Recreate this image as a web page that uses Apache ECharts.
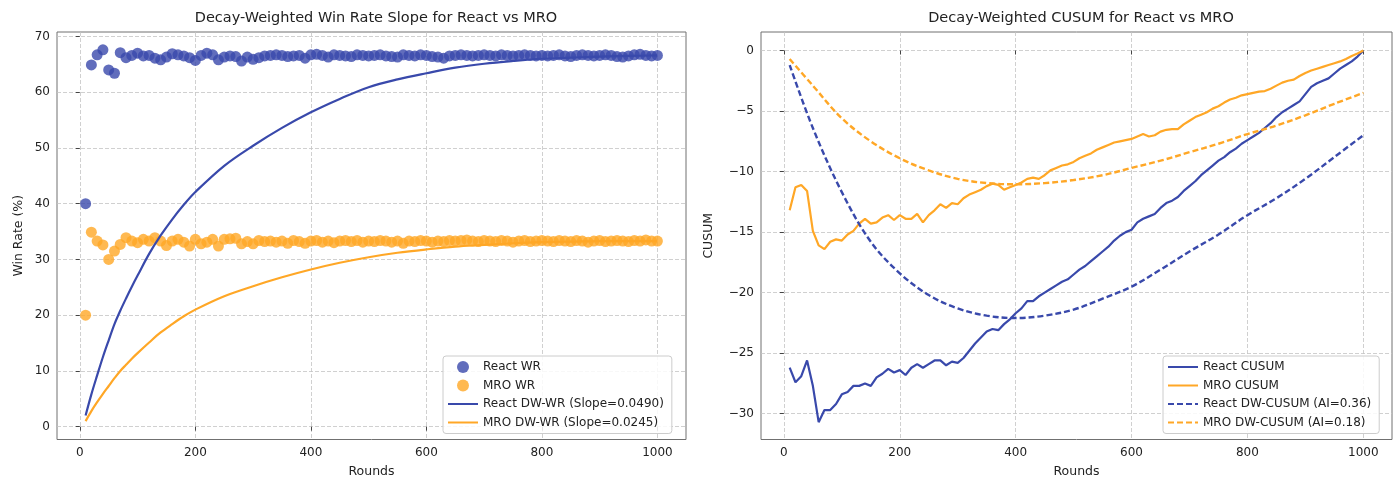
<!DOCTYPE html>
<html>
<head>
<meta charset="utf-8">
<title>Decay-Weighted Win Rate / CUSUM</title>
<script src="https://cdn.jsdelivr.net/npm/echarts@6.0.0/dist/echarts.min.js"></script>
<style>
	html, body { margin: 0; padding: 0; background: #fff; }
	#chart { width: 1400px; height: 487px; }
</style>
</head>
<body>
<div id="chart"></div>
<script>
// rounds for the scatter points and the CUSUM lines (every 10 rounds)
var rounds = [10,20,30,40,50,60,70,80,90,100,110,120,130,140,150,160,170,180,190,200,
	210,220,230,240,250,260,270,280,290,300,310,320,330,340,350,360,370,380,390,400,
	410,420,430,440,450,460,470,480,490,500,510,520,530,540,550,560,570,580,590,600,
	610,620,630,640,650,660,670,680,690,700,710,720,730,740,750,760,770,780,790,800,
	810,820,830,840,850,860,870,880,890,900,910,920,930,940,950,960,970,980,990,1000];

// win rate (%) scatter
var reactWR = [40,64.9,66.7,67.6,64.0,63.4,67.1,66.2,66.6,67.0,66.5,66.6,66.1,65.8,66.3,66.9,66.7,66.5,66.2,65.7,
	66.6,67.0,66.7,65.8,66.3,66.5,66.4,65.6,66.3,65.9,66.2,66.5,66.6,66.7,66.6,66.4,66.5,66.6,66.1,66.7,
	66.8,66.6,66.3,66.7,66.6,66.5,66.4,66.7,66.6,66.5,66.6,66.7,66.5,66.4,66.3,66.7,66.6,66.5,66.7,66.6,
	66.4,66.3,66.1,66.5,66.6,66.7,66.6,66.5,66.6,66.7,66.6,66.5,66.7,66.6,66.5,66.6,66.7,66.6,66.5,66.6,
	66.5,66.6,66.7,66.5,66.4,66.6,66.7,66.6,66.5,66.6,66.7,66.6,66.4,66.3,66.5,66.7,66.8,66.6,66.5,66.6];
var mroWR = [20,34.9,33.3,32.6,30.0,31.5,32.7,33.9,33.3,33.0,33.6,33.3,33.9,33.3,32.5,33.3,33.6,33.1,32.4,33.6,
	32.8,33.1,33.6,32.4,33.6,33.7,33.8,32.8,33.2,32.8,33.4,33.2,33.3,33.1,33.3,32.9,33.4,33.2,32.9,33.3,
	33.4,33.1,33.3,33.0,33.3,33.4,33.2,33.4,33.1,33.3,33.2,33.4,33.3,33.1,33.3,32.9,33.3,33.2,33.4,33.3,
	33.1,33.3,33.2,33.4,33.3,33.4,33.5,33.3,33.2,33.4,33.3,33.2,33.4,33.3,33.1,33.3,33.4,33.2,33.3,33.4,
	33.3,33.2,33.4,33.3,33.2,33.4,33.3,33.1,33.3,33.4,33.2,33.3,33.4,33.3,33.2,33.4,33.3,33.5,33.3,33.3];

// decay-weighted win rate curves
var dwRounds = [10,20,30,40,50,60,70,80,90,100,120,140,160,180,200,250,300,350,400,450,500,550,600,650,700,750,800,850,900,950,1000];
var reactDW = [2,5.8,9.2,12.5,15.5,18.4,20.8,23,25.1,27.1,31,34.3,37.2,39.8,42.1,46.8,50.4,53.6,56.4,58.8,60.9,62.3,63.4,64.4,65.1,65.6,66,66.2,66.4,66.5,66.6];
var mroDW = [1,2.8,4.4,5.9,7.3,8.7,10.0,11.1,12.2,13.2,15.1,16.9,18.4,19.8,21,23.4,25.2,26.8,28.2,29.4,30.4,31.2,31.8,32.3,32.6,32.9,33.1,33.2,33.3,33.3,33.3];

// CUSUM lines
var reactCusum = [-26.2,-27.4,-26.9,-25.6,-27.7,-30.7,-29.7,-29.7,-29.2,-28.4,-28.2,-27.7,-27.7,-27.5,-27.7,-27.0,-26.7,-26.3,-26.6,-26.4,
	-26.8,-26.2,-25.9,-26.2,-25.9,-25.6,-25.6,-26.0,-25.7,-25.8,-25.4,-24.8,-24.2,-23.7,-23.2,-23.0,-23.1,-22.6,-22.2,-21.7,
	-21.3,-20.7,-20.7,-20.3,-20.0,-19.7,-19.4,-19.1,-18.9,-18.5,-18.1,-17.8,-17.4,-17.0,-16.6,-16.2,-15.7,-15.3,-15.0,-14.8,
	-14.2,-13.9,-13.7,-13.5,-13.0,-12.6,-12.4,-12.1,-11.6,-11.2,-10.8,-10.3,-9.9,-9.5,-9.1,-8.8,-8.4,-8.1,-7.7,-7.4,
	-7.1,-6.8,-6.4,-6.0,-5.5,-5.1,-4.8,-4.5,-4.2,-3.6,-3.0,-2.7,-2.5,-2.3,-1.9,-1.5,-1.2,-0.9,-0.5,0];
var mroCusum = [-13.2,-11.3,-11.1,-11.6,-14.9,-16.1,-16.4,-15.8,-15.6,-15.7,-15.2,-14.9,-14.3,-13.9,-14.3,-14.2,-13.8,-13.6,-14.0,-13.6,
	-13.9,-13.9,-13.5,-14.2,-13.6,-13.2,-12.7,-13.0,-12.6,-12.7,-12.2,-11.9,-11.7,-11.5,-11.2,-11.0,-11.1,-11.5,-11.3,-11.1,
	-10.9,-10.6,-10.5,-10.6,-10.3,-9.9,-9.7,-9.5,-9.4,-9.2,-8.9,-8.7,-8.5,-8.2,-8.0,-7.8,-7.6,-7.5,-7.4,-7.3,
	-7.1,-6.9,-7.1,-7.0,-6.7,-6.55,-6.5,-6.5,-6.1,-5.8,-5.5,-5.3,-5.1,-4.8,-4.6,-4.3,-4.05,-3.9,-3.7,-3.6,
	-3.5,-3.4,-3.35,-3.15,-2.9,-2.65,-2.5,-2.4,-2.1,-1.85,-1.65,-1.5,-1.35,-1.2,-1.05,-0.9,-0.7,-0.45,-0.25,0];

// decay-weighted CUSUM curves
var dwCusumRounds = [10,50,100,150,200,250,300,350,400,450,500,550,600,650,700,750,800,850,900,950,1000];
var reactDWCusum = [-1.2,-6.4,-11.7,-15.8,-18.4,-20.2,-21.3,-21.9,-22.1,-21.9,-21.4,-20.5,-19.5,-18.1,-16.6,-15.2,-13.6,-12.2,-10.6,-8.8,-7.0];
var mroDWCusum = [-0.7,-2.9,-5.6,-7.5,-8.9,-9.9,-10.6,-10.95,-11.05,-10.95,-10.7,-10.3,-9.7,-9.1,-8.4,-7.7,-6.9,-6.2,-5.35,-4.4,-3.5];

var xTicks = [0,200,400,600,800,1000];
var wrTicks = [0,10,20,30,40,50,60,70];
var cusumTicks = [-30,-25,-20,-15,-10,-5,0];

var BLUE = '#3949AB';
var ORANGE = '#FFA726';
var FONT = 'DejaVu Sans';

function pairs(xs, ys){
	var out = [];
	for(var i=0;i<xs.length;i++){
		out.push([xs[i], ys[i]]);
	}
	return out;
}

//plain numbers, matplotlib style minus sign
function tickText(v){
	return String(v).replace('-', '\u2212');
}

function xAxisOf(gridIndex){
	return {
		type: 'value',
		gridIndex: gridIndex,
		min: -39.5,
		max: 1049.5,
		name: 'Rounds',
		nameLocation: 'middle',
		nameGap: 26,
		nameTextStyle: { fontFamily: FONT, fontSize: 12.5, color: '#222' },
		axisLine: { show: false },
		axisTick: { show: true, length: 4, customValues: xTicks, lineStyle: { color: '#444' } },
		axisLabel: { customValues: xTicks, margin: 7, fontFamily: FONT, fontSize: 12, color: '#222', formatter: tickText },
		splitLine: { show: true, lineStyle: { type: [4, 2], color: '#c4c4c4', width: 0.8 } }
	};
}

function yAxisOf(gridIndex, name, min, max, ticks, gap){
	return {
		type: 'value',
		gridIndex: gridIndex,
		min: min,
		max: max,
		name: name,
		nameLocation: 'middle',
		nameRotate: 90,
		nameGap: gap,
		nameTextStyle: { fontFamily: FONT, fontSize: 12.5, color: '#222' },
		axisLine: { show: false },
		axisTick: { show: true, length: 4, customValues: ticks, lineStyle: { color: '#444' } },
		axisLabel: { customValues: ticks, margin: 7, fontFamily: FONT, fontSize: 12, color: '#222', formatter: tickText },
		splitLine: { show: true, lineStyle: { type: [4, 2], color: '#c4c4c4', width: 0.8 } }
	};
}

var legendBase = {
	orient: 'vertical',
	top: 356,
	padding: [5, 8, 5, 4],
	itemGap: 6.5,
	itemWidth: 30,
	itemHeight: 12,
	backgroundColor: 'rgba(255,255,255,0.85)',
	borderColor: '#cccccc',
	borderWidth: 1,
	borderRadius: 3,
	textStyle: { fontFamily: FONT, fontSize: 12, color: '#222' }
};

// line entries: hide the marker the legend puts on the line icon
function lineEntry(name){
	return { name: name, itemStyle: { opacity: 0 } };
}

var chart = echarts.init(document.getElementById('chart'), null, { renderer: 'canvas' });

var option = {
	animation: false,
	backgroundColor: '#fff',
	title: [
		{ text: 'Decay-Weighted Win Rate Slope for React vs MRO', left: 371, top: 6, textAlign: 'center',
		  textStyle: { fontFamily: FONT, fontSize: 14.5, fontWeight: 'normal', color: '#222' } },
		{ text: 'Decay-Weighted CUSUM for React vs MRO', left: 1076, top: 6, textAlign: 'center',
		  textStyle: { fontFamily: FONT, fontSize: 14.5, fontWeight: 'normal', color: '#222' } }
	],
	grid: [
		{ left: 57, top: 32, right: 714, bottom: 47.5, show: true, borderColor: '#707070', borderWidth: 1, backgroundColor: 'transparent' },
		{ left: 761, top: 32, right: 8, bottom: 47.5, show: true, borderColor: '#707070', borderWidth: 1, backgroundColor: 'transparent' }
	],
	xAxis: [ xAxisOf(0), xAxisOf(1) ],
	yAxis: [
		yAxisOf(0, 'Win Rate (%)', -2.3, 70.8, wrTicks, 32),
		yAxisOf(1, 'CUSUM', -32.13, 1.53, cusumTicks, 46)
	],
	series: [
		{
			name: 'React WR', type: 'scatter', xAxisIndex: 0, yAxisIndex: 0,
			symbolSize: 11, itemStyle: { color: BLUE, opacity: 0.8 },
			data: pairs(rounds, reactWR), z: 3
		},
		{
			name: 'MRO WR', type: 'scatter', xAxisIndex: 0, yAxisIndex: 0,
			symbolSize: 11, itemStyle: { color: ORANGE, opacity: 0.8 },
			data: pairs(rounds, mroWR), z: 3
		},
		{
			name: 'React DW-WR (Slope=0.0490)', type: 'line', xAxisIndex: 0, yAxisIndex: 0,
			symbol: 'none', smooth: 0.35, color: BLUE, lineStyle: { color: BLUE, width: 2.2 },
			data: pairs(dwRounds, reactDW), z: 4
		},
		{
			name: 'MRO DW-WR (Slope=0.0245)', type: 'line', xAxisIndex: 0, yAxisIndex: 0,
			symbol: 'none', smooth: 0.35, color: ORANGE, lineStyle: { color: ORANGE, width: 2.2 },
			data: pairs(dwRounds, mroDW), z: 4
		},
		{
			name: 'React CUSUM', type: 'line', xAxisIndex: 1, yAxisIndex: 1,
			symbol: 'none', color: BLUE, lineStyle: { color: BLUE, width: 2.2 },
			data: pairs(rounds, reactCusum)
		},
		{
			name: 'MRO CUSUM', type: 'line', xAxisIndex: 1, yAxisIndex: 1,
			symbol: 'none', color: ORANGE, lineStyle: { color: ORANGE, width: 2.2 },
			data: pairs(rounds, mroCusum)
		},
		{
			name: 'React DW-CUSUM (AI=0.36)', type: 'line', xAxisIndex: 1, yAxisIndex: 1,
			symbol: 'none', smooth: 0.35, color: BLUE, lineStyle: { color: BLUE, width: 2.4, type: [6, 3] },
			data: pairs(dwCusumRounds, reactDWCusum)
		},
		{
			name: 'MRO DW-CUSUM (AI=0.18)', type: 'line', xAxisIndex: 1, yAxisIndex: 1,
			symbol: 'none', smooth: 0.35, color: ORANGE, lineStyle: { color: ORANGE, width: 2.4, type: [6, 3] },
			data: pairs(dwCusumRounds, mroDWCusum)
		}
	]
};

// two legends, one per panel
var leftLegend = Object.assign({}, legendBase, {
	left: 443,
	data: [
		{ name: 'React WR', icon: 'circle' },
		{ name: 'MRO WR', icon: 'circle' },
		lineEntry('React DW-WR (Slope=0.0490)'),
		lineEntry('MRO DW-WR (Slope=0.0245)')
	]
});
var rightLegend = Object.assign({}, legendBase, {
	left: 1163,
	data: [
		lineEntry('React CUSUM'),
		lineEntry('MRO CUSUM'),
		lineEntry('React DW-CUSUM (AI=0.36)'),
		lineEntry('MRO DW-CUSUM (AI=0.18)')
	]
});
option.legend = [leftLegend, rightLegend];

chart.setOption(option);
</script>
</body>
</html>
